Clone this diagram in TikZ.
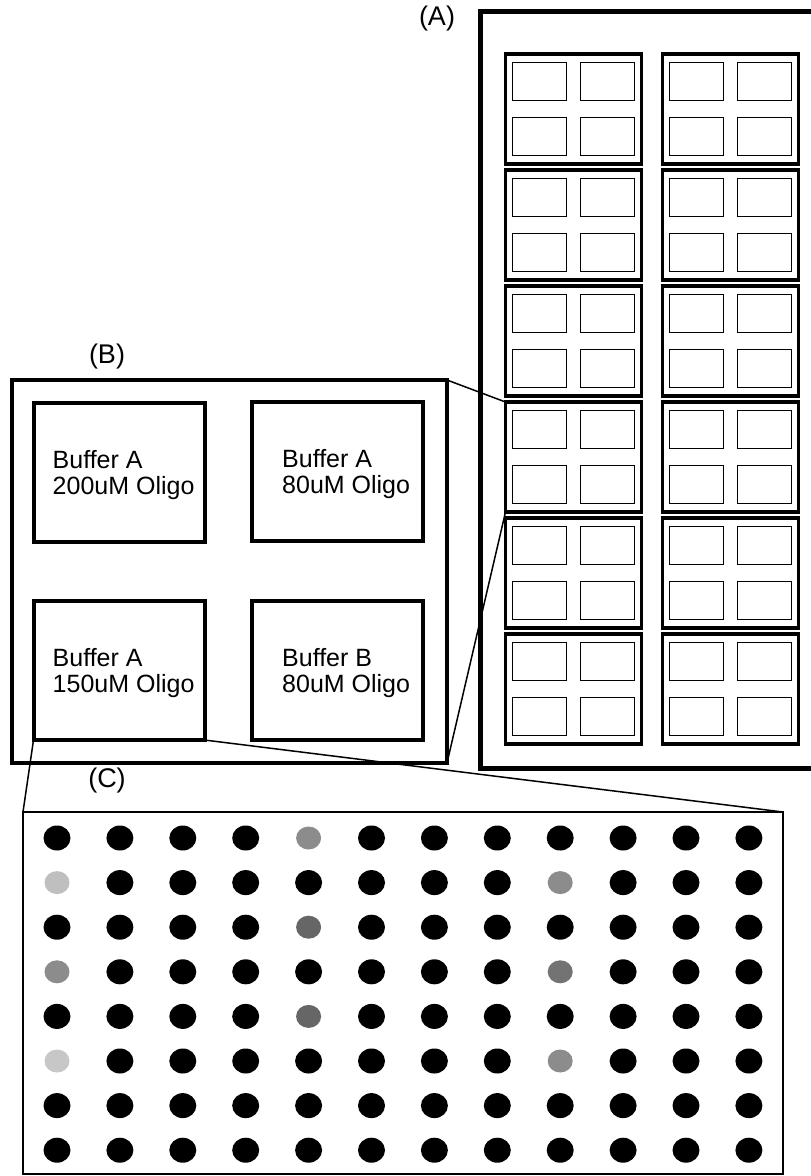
\documentclass[tikz,border=0pt]{standalone}
\usepackage{fontspec}
\setmainfont{Liberation Sans}
\usetikzlibrary{positioning,calc}

\begin{document}
\begin{tikzpicture}[x=1pt,y=-1pt,
  plate/.style={draw,line width=5pt,inner sep=0pt,outer sep=0pt},
  wellblock/.style={draw,line width=3.5pt,minimum width=136pt,minimum height=110pt,inner sep=0pt,outer sep=0pt},
  well/.style={draw,line width=1.6pt,minimum width=54pt,minimum height=38pt,inner sep=0pt,outer sep=0pt},
  bigwell/.style={draw,line width=4pt,minimum width=171pt,minimum height=139pt,inner sep=0pt,outer sep=0pt},
  welltext/.style={font=\fontsize{25}{26}\selectfont,align=left,inner sep=0pt,anchor=west},
  paneltag/.style={font=\fontsize{27}{27}\selectfont,inner sep=0pt},
  zoomline/.style={line width=1.5pt}]
  \useasboundingbox (0,0) rectangle (811,1176);
  \clip (0,0) rectangle (811,1176);
  % (A) the whole plate
  \node[plate,minimum width=360pt,minimum height=757pt] (A) at (660,389.5) {};
  \node[paneltag] (tagA) at (437,19) {(A)};
  \foreach \i in {1,...,6} {
    \node[wellblock] (blk-\i-1) at (573.5,{109+116*(\i-1)}) {};
    \node[wellblock] (blk-\i-2) at (730.5,{109+116*(\i-1)}) {};
    \foreach \j in {1,2} {
      \node[well] (w-\i-\j-a) at ($(blk-\i-\j)+(-34,-27.5)$) {};
      \node[well] (w-\i-\j-b) at ($(blk-\i-\j)+(34,-27.5)$) {};
      \node[well] (w-\i-\j-c) at ($(blk-\i-\j)+(-34,27.5)$) {};
      \node[well] (w-\i-\j-d) at ($(blk-\i-\j)+(34,27.5)$) {};
    }
  }
  % (B) one block of four wells
  \node[plate,line width=4pt,minimum width=435pt,minimum height=383pt] (B) at (229.5,571.5) {};
  \node[paneltag] (tagB) at (107,357) {(B)};
  \node[bigwell] (w1) at (119,472) {};
  \node[bigwell] (w2) at (337.5,471) {};
  \node[bigwell] (w3) at (119,670.5) {};
  \node[bigwell] (w4) at (337.5,670.5) {};
  \node[welltext] (t1) at ($(w1.west)+(19,3)$) {Buffer A\\200uM Oligo};
  \node[welltext] (t2) at ($(w2.west)+(30,3)$) {Buffer A\\80uM Oligo};
  \node[welltext] (t3) at ($(w3.west)+(19,3)$) {Buffer A\\150uM Oligo};
  \node[welltext] (t4) at ($(w4.west)+(30,3)$) {Buffer B\\80uM Oligo};
  % (C) spots of one well
  \node[paneltag] (tagC) at (107,781) {(C)};
  \node[draw,line width=2pt,minimum width=760pt,minimum height=362pt,inner sep=0pt,outer sep=0pt] (C) at (403,993) {};
  \foreach \r in {0,...,7}
    \foreach \c in {0,...,11}
      \fill ({57+62.9*\c},{838+44.6*\r}) ellipse [x radius=13.5, y radius=12.5];
  \foreach \c/\r/\s in {4/0/45,0/1/25,4/2/60,0/3/45,4/4/60,0/5/22,8/1/45,8/3/55,8/5/45} {
    \fill[white] ({57+62.9*\c},{838+44.6*\r}) ellipse [x radius=15, y radius=14];
    \fill[black!\s] ({57+62.9*\c},{838+44.6*\r}) ellipse [x radius=12.5, y radius=11.5];
  }
  % zoom lines
  \draw[zoomline] (B.north east) -- (blk-4-1.north west);
  \draw[zoomline] (B.south east) -- (blk-4-1.south west);
  \draw[zoomline] (w3.south west) -- (C.north west);
  \draw[zoomline] (w3.south east) -- (C.north east);
\end{tikzpicture}
\end{document}
